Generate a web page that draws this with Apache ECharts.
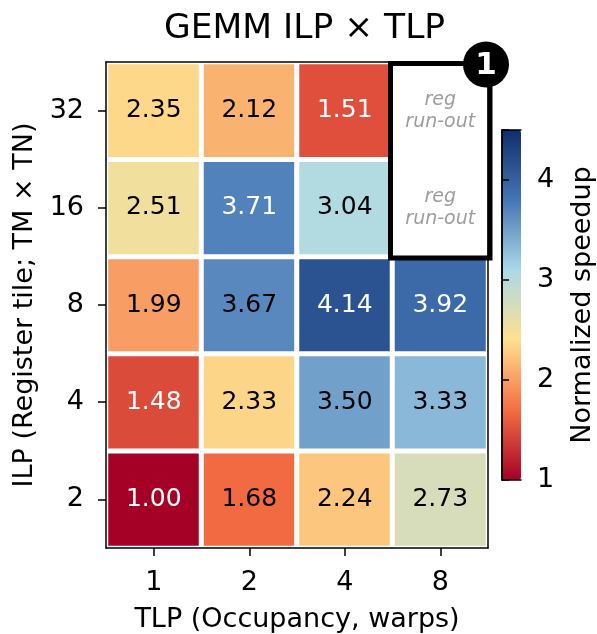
<!DOCTYPE html>
<html>
<head>
<meta charset="utf-8">
<script src="https://cdn.jsdelivr.net/npm/echarts@6/dist/echarts.min.js"></script>
<style>
html,body{margin:0;padding:0;background:#fff;}
#chart{width:597px;height:634px;}
</style>
</head>
<body>
<div id="chart"></div>
<script>
// ---- data ----
const tlpLabels = ['1', '2', '4', '8'];            // x categories (warps)
const ilpLabels = ['2', '4', '8', '16', '32'];     // y categories (register tile)
// speedup per ILP row (bottom to top), columns follow tlpLabels; null = reg run-out
const ilp2  = [1.00, 1.68, 2.24, 2.73];
const ilp4  = [1.48, 2.33, 3.50, 3.33];
const ilp8  = [1.99, 3.67, 4.14, 3.92];
const ilp16 = [2.51, 3.71, 3.04, null];
const ilp32 = [2.35, 2.12, 1.51, null];
const colorbarTicks = [1, 2, 3, 4];
const colorMin = 1.0;
const colorMax = 4.5;
const missingNote = 'reg\nrun-out';
const badgeText = '1';

const rows = [ilp2, ilp4, ilp8, ilp16, ilp32];
const FONT = 'DejaVu Sans';
const cmap = ['#a50026', '#f46d43', '#fee090', '#abd9e9', '#4575b4', '#0f2f6b'];

const heatData = [];
const missing = [];
rows.forEach((row, yi) => row.forEach((v, xi) => {
  if (v === null) { missing.push([xi, yi]); return; }
  const light = v < 1.6 || v > 3.68;
  heatData.push({ value: [xi, yi, v], label: { color: light ? '#ffffff' : '#000000' } });
}));
// group of missing cells for the highlight box
const mx = missing.length ? missing[0][0] : 0;
const myMin = Math.min(...missing.map(d => d[1]));
const myMax = Math.max(...missing.map(d => d[1]));

const chart = echarts.init(document.getElementById('chart'), null, { renderer: 'canvas' });
const axisLine = { show: true, lineStyle: { color: '#000', width: 1.5 } };
const option = {
  animation: false,
  backgroundColor: '#fff',
  textStyle: { fontFamily: FONT },
  title: {
    text: 'GEMM ILP × TLP',
    left: 159,
    top: 4,
    textStyle: { fontFamily: FONT, fontSize: 34.5, fontWeight: 'normal', color: '#000', lineHeight: 40 }
  },
  grid: [
    { left: 106, top: 62, width: 382, height: 486, containLabel: false, outerBoundsMode: 'none' },
    { left: 502, top: 130, width: 19, height: 350, containLabel: false, outerBoundsMode: 'none' }
  ],
  xAxis: [
    {
      type: 'category', gridIndex: 0, data: tlpLabels, position: 'bottom', z: 10,
      name: 'TLP (Occupancy, warps)', nameLocation: 'middle', nameGap: 58,
      nameTextStyle: { fontFamily: FONT, fontSize: 27, color: '#000' },
      axisLine: axisLine,
      axisTick: { show: true, alignWithLabel: true, length: 8, lineStyle: { color: '#000', width: 1.5 } },
      axisLabel: { fontFamily: FONT, fontSize: 27, color: '#000', margin: 21 },
      splitLine: { show: false }
    },
    {
      type: 'category', gridIndex: 0, data: tlpLabels, position: 'top', z: 10,
      axisLine: axisLine, axisTick: { show: false }, axisLabel: { show: false }, splitLine: { show: false }
    },
    {
      type: 'value', gridIndex: 1, min: 0, max: 1, position: 'bottom', z: 10,
      axisLine: axisLine, axisTick: { show: false }, axisLabel: { show: false }, splitLine: { show: false }
    },
    {
      type: 'value', gridIndex: 1, min: 0, max: 1, position: 'top', z: 10,
      axisLine: axisLine, axisTick: { show: false }, axisLabel: { show: false }, splitLine: { show: false }
    }
  ],
  yAxis: [
    {
      type: 'category', gridIndex: 0, data: ilpLabels, position: 'left', z: 10,
      name: 'ILP (Register tile; TM × TN)', nameLocation: 'middle', nameGap: 64, nameRotate: 90,
      nameTextStyle: { fontFamily: FONT, fontSize: 27, color: '#000' },
      axisLine: axisLine,
      axisTick: { show: true, alignWithLabel: true, length: 8, lineStyle: { color: '#000', width: 1.5 } },
      axisLabel: { fontFamily: FONT, fontSize: 27, color: '#000', margin: 22 },
      splitLine: { show: false }
    },
    {
      type: 'category', gridIndex: 0, data: ilpLabels, position: 'right', z: 10,
      axisLine: axisLine, axisTick: { show: false }, axisLabel: { show: false }, splitLine: { show: false }
    },
    {
      type: 'value', gridIndex: 1, min: colorMin, max: colorMax, interval: 1, position: 'right', z: 10,
      name: 'Normalized speedup', nameLocation: 'middle', nameGap: 48, nameRotate: 90,
      nameTextStyle: { fontFamily: FONT, fontSize: 27, color: '#000' },
      axisLine: axisLine,
      axisTick: { show: true, length: 7, lineStyle: { color: '#000', width: 1.5 } },
      axisLabel: {
        fontFamily: FONT, fontSize: 27, color: '#000', margin: 16,
        formatter: v => colorbarTicks.includes(v) ? String(v) : ''
      },
      splitLine: { show: false }
    },
    {
      type: 'value', gridIndex: 1, min: colorMin, max: colorMax, position: 'left', z: 10,
      axisLine: axisLine, axisTick: { show: false }, axisLabel: { show: false }, splitLine: { show: false }
    }
  ],
  visualMap: {
    type: 'continuous', seriesIndex: 0, dimension: 2,
    min: colorMin, max: colorMax,
    show: true, calculable: false, orient: 'vertical',
    left: 502, top: 130, itemWidth: 19, itemHeight: 350, padding: 0,
    inRange: { color: cmap },
    textStyle: { fontSize: 0, color: 'rgba(0,0,0,0)' }
  },
  series: [
    {
      type: 'heatmap', xAxisIndex: 0, yAxisIndex: 0,
      data: heatData,
      itemStyle: { borderColor: '#ffffff', borderWidth: 5 },
      label: {
        show: true, fontFamily: FONT, fontSize: 25,
        formatter: p => p.value[2].toFixed(2)
      },
      emphasis: { disabled: true }
    },
    {
      type: 'scatter', xAxisIndex: 0, yAxisIndex: 0,
      data: missing, symbolSize: 0, silent: true,
      label: {
        show: true, position: 'inside', formatter: missingNote,
        fontFamily: FONT, fontStyle: 'italic', fontSize: 19, lineHeight: 22, color: '#858585'
      }
    },
    {
      type: 'custom', xAxisIndex: 0, yAxisIndex: 0, z: 20, clip: false, silent: true,
      data: [[mx, myMin, myMax]],
      renderItem: function (params, api) {
        const top = api.coord([api.value(0), api.value(2)]);
        const bot = api.coord([api.value(0), api.value(1)]);
        const size = api.size([1, 1]);
        const x0 = top[0] - size[0] / 2 - 2;
        const x1 = top[0] + size[0] / 2 + 2;
        const y0 = top[1] - size[1] / 2 + 1.5;
        const y1 = bot[1] + size[1] / 2 + 1.5;
        return {
          type: 'group',
          children: [
            { type: 'rect', shape: { x: x0, y: y0, width: x1 - x0, height: y1 - y0 },
              style: { fill: null, stroke: '#000', lineWidth: 5 } },
            { type: 'circle', shape: { cx: x1 - 4, cy: y0 + 1, r: 23 },
              style: { fill: '#000' } },
            { type: 'text', x: x1 - 4, y: y0 + 2,
              style: { text: badgeText, fill: '#fff', font: 'bold 31px "DejaVu Sans"', align: 'center', verticalAlign: 'middle' } }
          ]
        };
      }
    }
  ]
};
chart.setOption(option);
</script>
</body>
</html>
